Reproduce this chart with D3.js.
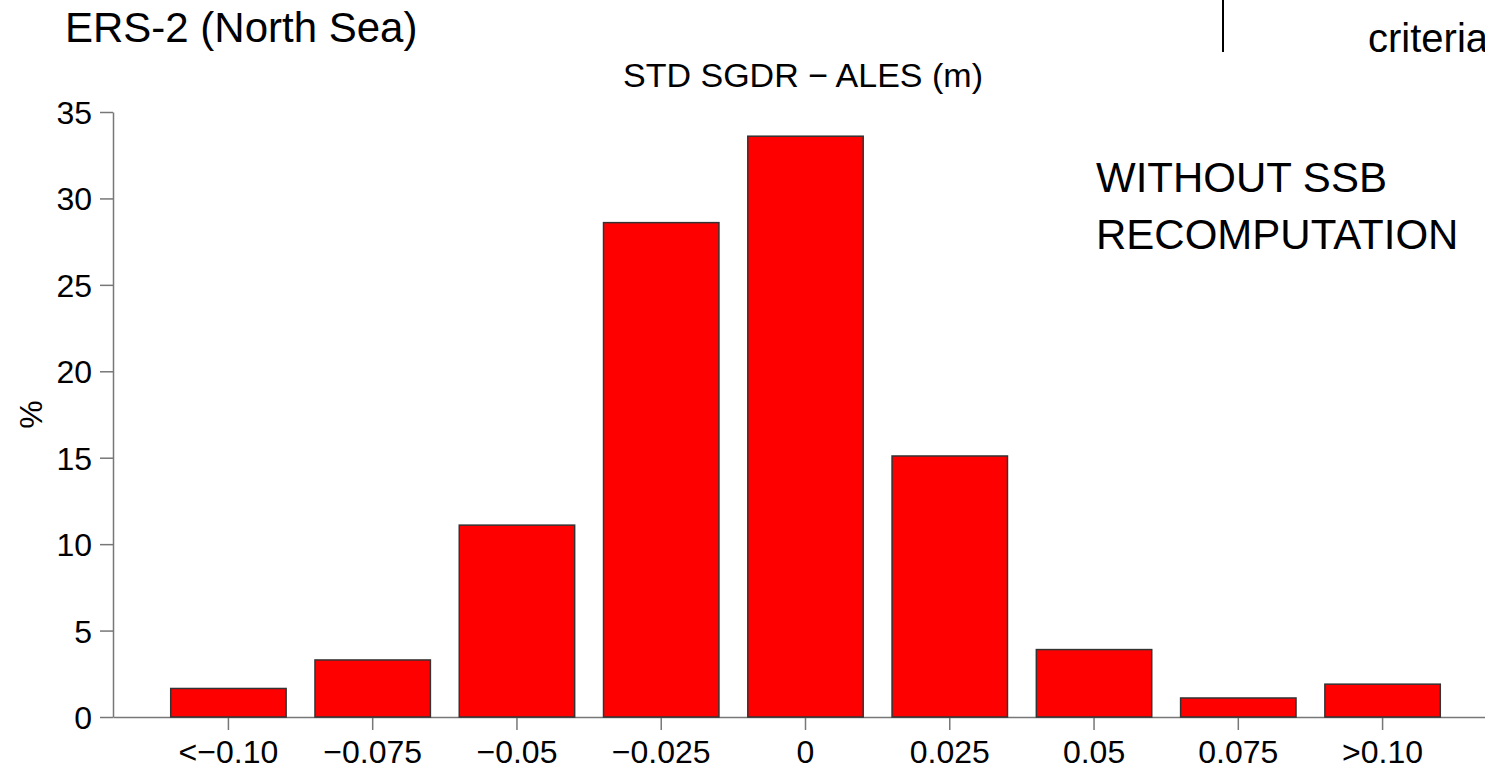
<!DOCTYPE html>
<html>
<head>
<meta charset="utf-8">
<script src="https://cdn.jsdelivr.net/npm/d3@7"></script>
<style>
  body { margin: 0; background: #ffffff; overflow: hidden; }
  text { font-family: "Liberation Sans", Arial, sans-serif; }
</style>
</head>
<body>
<script>
// chart data
var categories = ["<\u22120.10", "\u22120.075", "\u22120.05", "\u22120.025", "0", "0.025", "0.05", "0.075", ">0.10"];
var percents = [1.65, 3.3, 11.1, 28.6, 33.6, 15.1, 3.9, 1.1, 1.9];
var yTicks = [0, 5, 10, 15, 20, 25, 30, 35];

// look
var barColor = "#ff0000";
var barStroke = "#333333";
var axisColor = "#777777";

var width = 1485;
var height = 771;

var svg = d3.select("body")
    .append("svg")
    .attr("width", width)
    .attr("height", height);

var x = d3.scaleBand()
    .domain(categories)
    .range([113, 1498])
    .paddingInner(0.2)
    .paddingOuter(0.4);

var y = d3.scaleLinear()
    .domain([0, 35])
    .range([717, 112]);

// x axis
var xAxis = svg.append("g")
    .attr("transform", "translate(0," + y(0) + ")")
    .call(d3.axisBottom(x).tickSize(13).tickSizeOuter(0).tickPadding(11));
xAxis.selectAll("path, line").attr("stroke", axisColor).attr("stroke-width", 1.5);
xAxis.selectAll("text")
    .attr("fill", "#000")
    .style("font-size", "32px")
    .attr("dy", "0.7em");

// y axis
var yAxis = svg.append("g")
    .attr("transform", "translate(113,0)")
    .call(d3.axisLeft(y).tickValues(yTicks).tickSize(13).tickSizeOuter(0).tickPadding(8));
yAxis.selectAll("path, line").attr("stroke", axisColor).attr("stroke-width", 1.5);
yAxis.selectAll("text")
    .attr("fill", "#000")
    .style("font-size", "32px")
    .attr("dy", "0.36em");

// bars
svg.append("g")
    .selectAll("rect")
    .data(percents)
    .enter()
    .append("rect")
    .attr("x", function(d, i) { return x(categories[i]); })
    .attr("y", function(d) { return y(d); })
    .attr("width", x.bandwidth())
    .attr("height", function(d) { return y(0) - y(d); })
    .attr("fill", barColor)
    .attr("stroke", barStroke)
    .attr("stroke-width", 1.5);

// titles and notes
svg.append("text")
    .attr("x", 65)
    .attr("y", 42)
    .style("font-size", "42px")
    .text("ERS-2 (North Sea)");

svg.append("text")
    .attr("x", 803)
    .attr("y", 87)
    .attr("text-anchor", "middle")
    .style("font-size", "34px")
    .text("STD SGDR \u2212 ALES (m)");

svg.append("text")
    .attr("transform", "translate(42," + y(17.5) + ") rotate(-90)")
    .attr("text-anchor", "middle")
    .style("font-size", "32px")
    .text("%");

var note = svg.append("text")
    .style("font-size", "42px");
note.append("tspan").attr("x", 1096).attr("y", 192).text("WITHOUT SSB");
note.append("tspan").attr("x", 1096).attr("y", 249).text("RECOMPUTATION");

// bits of the neighbouring slide
svg.append("line")
    .attr("x1", 1223).attr("x2", 1223)
    .attr("y1", 0).attr("y2", 52)
    .attr("stroke", "#000")
    .attr("stroke-width", 2);

svg.append("text")
    .attr("x", 1368)
    .attr("y", 52)
    .style("font-size", "40px")
    .text("criteria");
</script>
</body>
</html>
